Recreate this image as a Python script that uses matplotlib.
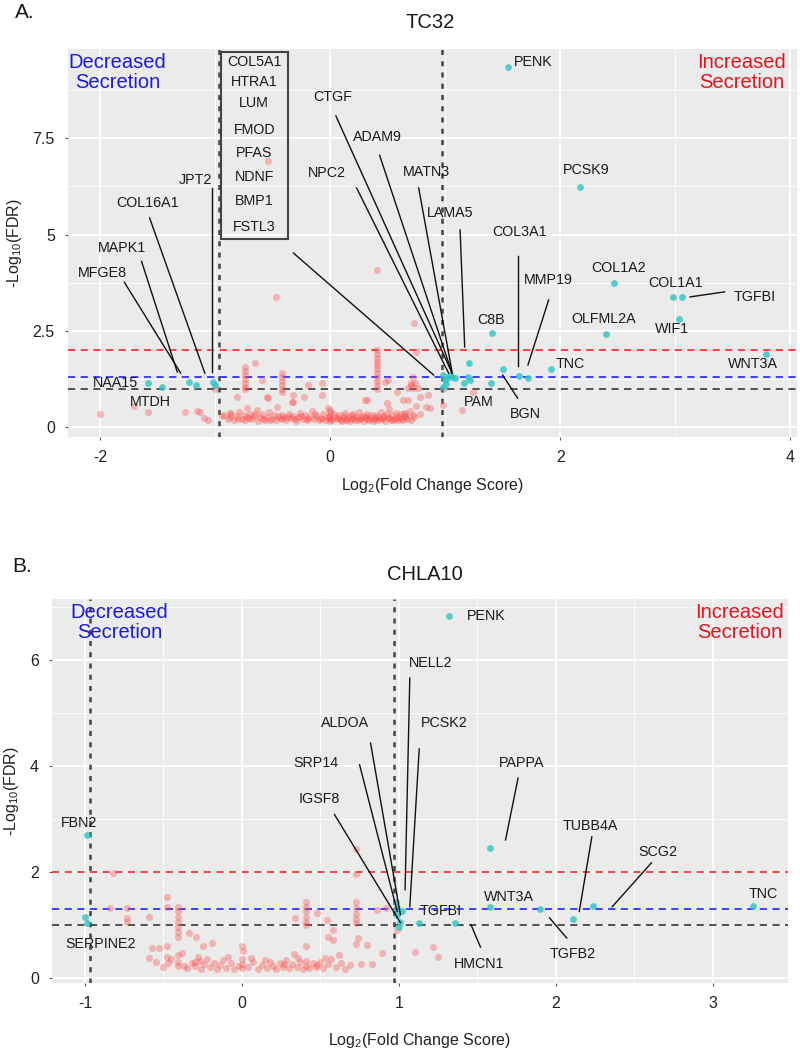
import matplotlib
matplotlib.use("Agg")
import matplotlib.pyplot as plt
from matplotlib.patches import Rectangle
from matplotlib.ticker import MultipleLocator

plt.rcParams['font.family'] = ['Liberation Sans', 'DejaVu Sans']
plt.rcParams['mathtext.fontset'] = 'custom'
plt.rcParams['mathtext.rm'] = 'Liberation Sans'
plt.rcParams['axes.unicode_minus'] = False

# ---------------- Panel A (TC32) data ----------------
A_sig_genes = ['PENK', 'PCSK9', 'COL1A2', 'COL1A1', 'TGFBI', 'WIF1', 'OLFML2A', 'C8B', 'WNT3A',
               'TNC', 'BGN', 'COL3A1', 'MMP19', 'PAM', 'LAMA5', 'NAA15', 'MTDH', 'MFGE8', 'MAPK1',
               'COL16A1', 'JPT2']
A_sig_x = [1.55, 2.17, 2.47, 2.98, 3.06, 3.03, 2.40, 1.41, 3.79,
           1.92, 1.50, 1.64, 1.72, 1.20, 1.21, -1.58, -1.46, -1.23, -1.17,
           -1.02, -1.00]
A_sig_y = [9.35, 6.23, 3.74, 3.38, 3.38, 2.81, 2.42, 2.44, 1.90,
           1.51, 1.51, 1.32, 1.27, 1.30, 1.66, 1.14, 1.04, 1.17, 1.09,
           1.17, 1.09]
# extra significant points in the cluster near x = 1
A_clu_x = [0.98, 1.00, 0.98, 1.04, 1.02, 1.09, 1.16, 1.22, 1.40, 1.06, 1.01]
A_clu_y = [1.35, 1.22, 1.04, 1.35, 1.27, 1.27, 1.14, 1.22, 1.14, 1.30, 1.12]

# non-significant points
A_ns_x = [-2.00, -1.71, -1.58, -1.26, -1.16, -1.13, -1.10, -1.06, -1.00, -0.94, -0.87, -0.81,
          -0.74, -0.74, -0.74, -0.74, -0.74, -0.74, -0.74, -0.72, -0.65, -0.59, -0.55, -0.47,
          -0.42, -0.42, -0.42, -0.42, -0.42, -0.42, -0.32, -0.32, -0.23, -0.19, -0.07, -0.07,
          0.41, 0.41, 0.41, 0.41, 0.41, 0.41, 0.41, 0.41, 0.41, 0.41, 0.41, 0.41,
          0.32, 0.50, -0.54, -0.33, -0.02, 0.30, 0.48, 0.49, 0.58, 0.70, 0.68,
          0.72, 0.70, 0.74, 0.68, 0.72, 0.76, 0.75, 0.73, 0.85, 0.87, 0.98, 0.98, 1.15, 1.24,
          0.63, 0.78, 0.83, 0.65, -0.54,
          -0.92, -0.89, -0.86, -0.84, -0.81, -0.79, -0.77, -0.75, -0.74, -0.72, -0.70, -0.68,
          -0.66, -0.64, -0.63, -0.61, -0.59, -0.57, -0.55, -0.53, -0.51, -0.49, -0.47, -0.46,
          -0.44, -0.42, -0.42, -0.40, -0.38, -0.36, -0.34, -0.32, -0.30, -0.28, -0.26, -0.24,
          -0.22, -0.20, -0.18, -0.16, -0.14, -0.12, -0.10, -0.08, -0.06, -0.04, -0.02, 0.00,
          0.00, 0.00, 0.00, 0.00, 0.02, 0.04, 0.06, 0.08, 0.10, 0.11, 0.13, 0.14,
          0.16, 0.17, 0.19, 0.20, 0.22, 0.23, 0.25, 0.26, 0.28, 0.29, 0.31, 0.32,
          0.34, 0.35, 0.37, 0.38, 0.40, 0.41, 0.42, 0.44, 0.45, 0.47, 0.48, 0.50,
          0.51, 0.53, 0.54, 0.56, 0.57, 0.59, 0.60, 0.62, 0.64, 0.66, 0.69, 0.72,
          0.75, 0.78,
          -0.87, -0.80, -0.71, -0.65, -0.58, -0.52, -0.45, -0.37, -0.31, -0.25, -0.19, -0.13,
          -0.07, -0.01, 0.03, 0.07, 0.09, 0.12, 0.15, 0.18, 0.21, 0.24, 0.27, 0.30,
          0.33, 0.36, 0.39, 0.43, 0.46, 0.49, 0.52, 0.55, 0.58, 0.61, 0.63, 0.65,
          0.67, 0.70, 0.73]
A_ns_y = [0.34, 0.55, 0.39, 0.39, 0.42, 0.39, 0.23, 0.18, 0.99, 0.29, 0.36, 0.78,
          1.56, 1.45, 1.35, 1.25, 1.15, 1.05, 1.00, 0.49, 1.66, 1.22, 0.78, 3.38,
          1.40, 1.30, 1.20, 1.10, 1.00, 0.90, 0.83, 0.66, 0.78, 1.09, 1.14, 0.83,
          4.08, 2.00, 1.90, 1.80, 1.70, 1.60, 1.50, 1.40, 1.30, 1.20, 1.10, 1.00,
          0.70, 1.22, 6.90, 0.65, 0.49, 0.70, 1.17, 0.62, 0.91, 1.09, 0.70,
          1.30, 1.15, 1.15, 1.02, 1.02, 1.02, 1.95, 2.70, 0.83, 0.49, 0.57, 1.00, 0.44, 0.91,
          0.70, 0.78, 0.52, 0.36, 0.75,
          0.30, 0.22, 0.35, 0.18, 0.28, 0.40, 0.22, 0.30, 0.17, 0.26, 0.35, 0.20,
          0.28, 0.45, 0.16, 0.25, 0.33, 0.19, 0.27, 0.38, 0.21, 0.30, 0.17, 0.52,
          0.24, 0.32, 0.20, 0.27, 0.18, 0.34, 0.23, 0.29, 0.16, 0.26, 0.37, 0.21,
          0.30, 0.18, 0.25, 0.42, 0.20, 0.28, 0.17, 0.24, 0.33, 0.19, 0.27, 0.15,
          0.22, 0.30, 0.38, 0.45, 0.18, 0.26, 0.20, 0.31, 0.16, 0.24, 0.36, 0.19,
          0.27, 0.15, 0.22, 0.33, 0.18, 0.26, 0.40, 0.20, 0.29, 0.16, 0.24, 0.35,
          0.19, 0.27, 0.15, 0.22, 0.31, 0.18, 0.26, 0.38, 0.20, 0.29, 0.16, 0.24,
          0.47, 0.19, 0.30, 0.22, 0.37, 0.17, 0.27, 0.21, 0.33, 0.25, 0.42, 0.30,
          0.55, 0.35,
          0.26, 0.20, 0.23, 0.34, 0.22, 0.17, 0.29, 0.25, 0.21, 0.28, 0.22, 0.35,
          0.21, 0.26, 0.34, 0.24, 0.19, 0.29, 0.22, 0.30, 0.25, 0.17, 0.23, 0.28,
          0.21, 0.30, 0.24, 0.21, 0.26, 0.33, 0.23, 0.18, 0.26, 0.35, 0.19, 0.29,
          0.22, 0.18, 0.25]

A_box_genes = ['COL5A1', 'HTRA1', 'LUM', 'FMOD', 'PFAS', 'NDNF', 'BMP1', 'FSTL3']

# ---------------- Panel B (CHLA10) data ----------------
B_sig_genes = ['PENK', 'PAPPA', 'FBN2', 'SERPINE2', 'SERPINE2b', 'WNT3A', 'TGFB2', 'TUBB4A',
               'SCG2', 'TNC', 'TGFBI', 'HMCN1']
B_sig_x = [1.32, 1.58, -0.99, -1.00, -0.99, 1.58, 1.90, 2.11, 2.24, 3.26, 1.13, 1.36]
B_sig_y = [6.83, 2.45, 2.70, 1.15, 1.04, 1.34, 1.30, 1.11, 1.36, 1.36, 1.04, 1.04]
B_clu_x = [0.99, 0.99, 1.01, 0.98, 1.02, 1.00]
B_clu_y = [1.32, 1.19, 1.06, 1.43, 1.25, 0.96]

B_ns_x = [-0.82, -0.84, -0.73, -0.73, -0.73, -0.59, -0.48, -0.48, -0.53, -0.48, -0.48, -0.59,
          -0.41, -0.41, -0.41, -0.41, -0.41, -0.41, -0.41, -0.41, -0.34, -0.29,
          0.41, 0.41, 0.41, 0.41, 0.41, 0.41, 0.34, 0.41, 0.48, 0.54, 0.55, 0.58, 0.62,
          0.73, 0.73, 0.73, 0.73, 0.73, 0.73, 0.73, 0.74, 0.73, 0.80, 0.76, 0.83, 0.89, 0.92,
          -0.57, -0.25, -0.19, 0.00, 0.58, 0.86, 0.99, 1.10, 1.22, 1.25,
          -0.55, -0.50, -0.45, -0.41, -0.41, -0.38, -0.35, -0.32, -0.30, -0.30, -0.28, -0.26,
          -0.24, -0.22, -0.20, -0.18, -0.16, -0.14, -0.12, -0.10, -0.07, -0.05, -0.02, 0.00,
          0.00, 0.00, 0.01, 0.04, 0.07, 0.10, 0.13, 0.16, 0.18, 0.20, 0.22, 0.24,
          0.26, 0.28, 0.30, 0.32, 0.33, 0.35, 0.37, 0.39, 0.41, 0.41, 0.43, 0.45,
          0.47, 0.50, 0.52, 0.55, 0.57, 0.60, 0.63, 0.66, 0.69, -0.47, -0.37, -0.27,
          -0.09, 0.06, 0.15, 0.27, 0.36, 0.48, 0.53]
B_ns_y = [1.98, 1.32, 1.32, 1.13, 1.06, 1.15, 1.53, 1.34, 0.57, 0.60, 0.40, 0.37,
          1.34, 1.25, 1.15, 1.06, 0.96, 0.87, 0.77, 0.43, 0.85, 0.77,
          1.43, 1.34, 1.25, 1.15, 1.06, 1.00, 1.13, 0.60, 1.23, 1.09, 0.77, 0.72, 0.43,
          2.43, 1.96, 1.43, 1.32, 1.20, 1.10, 1.03, 0.75, 0.64, 0.62, 0.25, 0.25, 0.47, 1.32,
          0.57, 0.59, 0.65, 0.59, 0.90, 1.28, 0.90, 0.49, 0.58, 0.40,
          0.30, 0.20, 0.35, 0.22, 0.30, 0.47, 0.18, 0.28, 0.22, 0.30, 0.40, 0.17,
          0.26, 0.35, 0.20, 0.28, 0.16, 0.24, 0.33, 0.19, 0.27, 0.17, 0.22, 0.18,
          0.26, 0.35, 0.50, 0.20, 0.29, 0.17, 0.24, 0.19, 0.30, 0.22, 0.16, 0.27,
          0.20, 0.34, 0.18, 0.25, 0.45, 0.20, 0.29, 0.16, 0.23, 0.32, 0.18, 0.27,
          0.21, 0.30, 0.18, 0.25, 0.35, 0.20, 0.28, 0.17, 0.24, 0.28, 0.22, 0.32,
          0.40, 0.38, 0.33, 0.26, 0.37, 0.24, 0.38]

# ---------------- label layout (text centre, optional leader line) ----------------
A_labels = [
    ('PENK', 1.77, 9.48, None), ('PCSK9', 2.23, 6.68, None), ('COL1A2', 2.51, 4.13, None),
    ('COL1A1', 3.00, 3.74, None), ('TGFBI', 3.69, 3.38, (3.13, 3.38, 3.43, 3.51)),
    ('OLFML2A', 2.38, 2.81, None), ('WIF1', 2.97, 2.55, None), ('C8B', 1.40, 2.78, None),
    ('TNC', 2.09, 1.64, None), ('WNT3A', 3.68, 1.64, None), ('PAM', 1.29, 0.65, None),
    ('BGN', 1.70, 0.34, (1.63, 0.75, 1.50, 1.35)),
    ('COL3A1', 1.65, 5.06, (1.63, 4.44, 1.63, 1.58)),
    ('MMP19', 1.90, 3.82, (1.90, 3.30, 1.72, 1.61)),
    ('LAMA5', 1.04, 5.56, (1.13, 5.12, 1.17, 2.08)),
    ('MATN3', 0.84, 6.62, (0.77, 6.21, 1.06, 1.43)),
    ('ADAM9', 0.41, 7.53, (0.43, 7.06, 1.06, 1.40)),
    ('CTGF', 0.02, 8.57, (0.05, 8.08, 1.06, 1.40)),
    ('NPC2', -0.03, 6.60, (0.23, 6.21, 1.03, 1.40)),
    ('NAA15', -1.87, 1.14, None), ('MTDH', -1.56, 0.65, None),
    ('MFGE8', -1.98, 4.00, (-1.79, 3.76, -1.30, 1.40)),
    ('MAPK1', -1.81, 4.65, (-1.64, 4.30, -1.33, 1.43)),
    ('COL16A1', -1.59, 5.82, (-1.57, 5.43, -1.09, 1.40)),
    ('JPT2', -1.17, 6.42, (-1.03, 6.21, -1.03, 1.43)),
]
A_box_line = (-0.32, 4.52, 0.90, 1.35)

B_labels = [
    ('PENK', 1.56, 6.83, None), ('FBN2', -1.04, 2.92, None), ('SERPINE2', -0.90, 0.64, None),
    ('WNT3A', 1.70, 1.53, None), ('TGFBI', 1.27, 1.25, None), ('TNC', 3.32, 1.58, None),
    ('NELL2', 1.20, 5.94, (1.07, 5.66, 1.04, 1.66)),
    ('PCSK2', 1.29, 4.81, (1.13, 4.32, 1.07, 1.34)),
    ('ALDOA', 0.66, 4.81, (0.82, 4.43, 1.01, 1.19)),
    ('SRP14', 0.47, 4.06, (0.75, 4.02, 0.99, 1.25)),
    ('IGSF8', 0.49, 3.38, (0.59, 3.08, 1.01, 1.04)),
    ('PAPPA', 1.78, 4.06, (1.76, 3.77, 1.68, 2.60)),
    ('HMCN1', 1.51, 0.26, (1.46, 1.00, 1.52, 0.58)),
    ('TGFB2', 2.11, 0.45, (1.96, 1.13, 2.07, 0.75)),
    ('TUBB4A', 2.22, 2.87, (2.23, 2.66, 2.15, 1.25)),
    ('SCG2', 2.65, 2.38, (2.61, 2.17, 2.36, 1.34)),
]

W, H = 800, 1052
fig = plt.figure(figsize=(W / 100, H / 100), dpi=100)

CYAN = '#2EC4C4'
RED = '#FF4A4A'
LABEL_FS = 10.3


def style_axes(ax, xlim, ylim, xmaj, ymaj, yfmt):
    ax.set_facecolor('#EBEBEB')
    for s in ax.spines.values():
        s.set_visible(False)
    ax.set_xlim(*xlim)
    ax.set_ylim(*ylim)
    ax.xaxis.set_major_locator(MultipleLocator(xmaj))
    ax.xaxis.set_minor_locator(MultipleLocator(xmaj / 2))
    ax.yaxis.set_major_locator(MultipleLocator(ymaj))
    ax.yaxis.set_minor_locator(MultipleLocator(ymaj / 2))
    ax.grid(which='major', color='white', lw=1.3)
    ax.grid(which='minor', color='white', lw=0.6)
    ax.set_axisbelow(True)
    ax.tick_params(which='major', length=2.5, width=0.8, color='#555555',
                   labelsize=11.5, labelcolor='#222222', pad=7)
    ax.tick_params(which='minor', length=0)
    ax.yaxis.set_major_formatter(yfmt)


def thresholds(ax, vx):
    for v in vx:
        ax.axvline(v, color='#444444', lw=1.8, ls=(0, (2, 2.5)), zorder=1)
    ax.axhline(2.0, color='#FF3333', lw=1.3, ls=(0, (4, 3)), zorder=1)
    ax.axhline(1.301, color='#3333FF', lw=1.3, ls=(0, (4, 3)), zorder=1)
    ax.axhline(1.0, color='#444444', lw=1.3, ls=(0, (4, 3)), zorder=1)


def fmtA(v, pos):
    return ('%g' % v)


# ---------------- Panel A ----------------
axA = fig.add_axes([68 / W, 1 - 437 / H, 729 / W, 388 / H])
style_axes(axA, (-2.28, 4.06), (-0.26, 9.82), 2, 2.5, plt.FuncFormatter(fmtA))
thresholds(axA, [-0.97, 0.97])
axA.scatter(A_ns_x, A_ns_y, s=26, color=RED, alpha=0.35, lw=0, zorder=2)
axA.scatter(A_sig_x, A_sig_y, s=24, color=CYAN, alpha=0.8, lw=0, zorder=3)
axA.scatter(A_clu_x, A_clu_y, s=24, color=CYAN, alpha=0.8, lw=0, zorder=3)
for name, tx, ty, ln in A_labels:
    axA.text(tx, ty, name, ha='center', va='center', fontsize=LABEL_FS, color='#1a1a1a', zorder=5)
    if ln is not None:
        axA.plot([ln[0], ln[2]], [ln[1], ln[3]], color='#111111', lw=1.0, zorder=4)
axA.add_patch(Rectangle((-0.95, 4.88), 0.58, 4.86, fill=False, ec='#444444', lw=1.5, zorder=4))
box_y = [9.48, 8.96, 8.42, 7.71, 7.12, 6.49, 5.87, 5.19]
for g, yy in zip(A_box_genes, box_y):
    axA.text(-0.66, yy, g, ha='center', va='center', fontsize=LABEL_FS, color='#1a1a1a', zorder=5)
axA.plot([A_box_line[0], A_box_line[2]], [A_box_line[1], A_box_line[3]], color='#111111', lw=1.0, zorder=4)
axA.text(-1.85, 9.2, 'Decreased\nSecretion', ha='center', va='center', fontsize=14.5,
         color='#1A1AE6', linespacing=1.05, zorder=5)
axA.text(3.58, 9.2, 'Increased\nSecretion', ha='center', va='center', fontsize=14.5,
         color='#E6141E', linespacing=1.05, zorder=5)
axA.set_xlabel(r'Log$_\mathregular{2}$(Fold Change Score)', fontsize=11.5, color='#222222', labelpad=8)
axA.set_ylabel(r'-Log$_\mathregular{10}$(FDR)', fontsize=11.5, color='#222222', labelpad=6)
fig.text(430 / W, 1 - 22 / H, 'TC32', ha='center', va='center', fontsize=14.5, color='#1a1a1a')
fig.text(15 / W, 1 - 13 / H, 'A.', ha='left', va='center', fontsize=15, color='#1a1a1a')

# ---------------- Panel B ----------------
axB = fig.add_axes([52 / W, 1 - 983 / H, 736 / W, 384 / H])
style_axes(axB, (-1.21, 3.48), (-0.1, 7.15), 1, 2, plt.FuncFormatter(fmtA))
thresholds(axB, [-0.97, 0.97])
axB.scatter(B_ns_x, B_ns_y, s=26, color=RED, alpha=0.35, lw=0, zorder=2)
axB.scatter(B_sig_x, B_sig_y, s=24, color=CYAN, alpha=0.8, lw=0, zorder=3)
axB.scatter(B_clu_x, B_clu_y, s=24, color=CYAN, alpha=0.8, lw=0, zorder=3)
for name, tx, ty, ln in B_labels:
    axB.text(tx, ty, name, ha='center', va='center', fontsize=LABEL_FS, color='#1a1a1a', zorder=5)
    if ln is not None:
        axB.plot([ln[0], ln[2]], [ln[1], ln[3]], color='#111111', lw=1.0, zorder=4)
axB.text(-0.78, 6.7, 'Decreased\nSecretion', ha='center', va='center', fontsize=14.5,
         color='#1A1AE6', linespacing=1.05, zorder=5)
axB.text(3.17, 6.7, 'Increased\nSecretion', ha='center', va='center', fontsize=14.5,
         color='#E6141E', linespacing=1.05, zorder=5)
axB.set_xlabel(r'Log$_\mathregular{2}$(Fold Change Score)', fontsize=11.5, color='#222222', labelpad=14)
axB.set_ylabel(r'-Log$_\mathregular{10}$(FDR)', fontsize=11.5, color='#222222', labelpad=6)
fig.text(425 / W, 1 - 575 / H, 'CHLA10', ha='center', va='center', fontsize=14.5, color='#1a1a1a')
fig.text(12 / W, 1 - 567 / H, 'B.', ha='left', va='center', fontsize=15, color='#1a1a1a')

fig.savefig('out.png', dpi=100, facecolor='white')
